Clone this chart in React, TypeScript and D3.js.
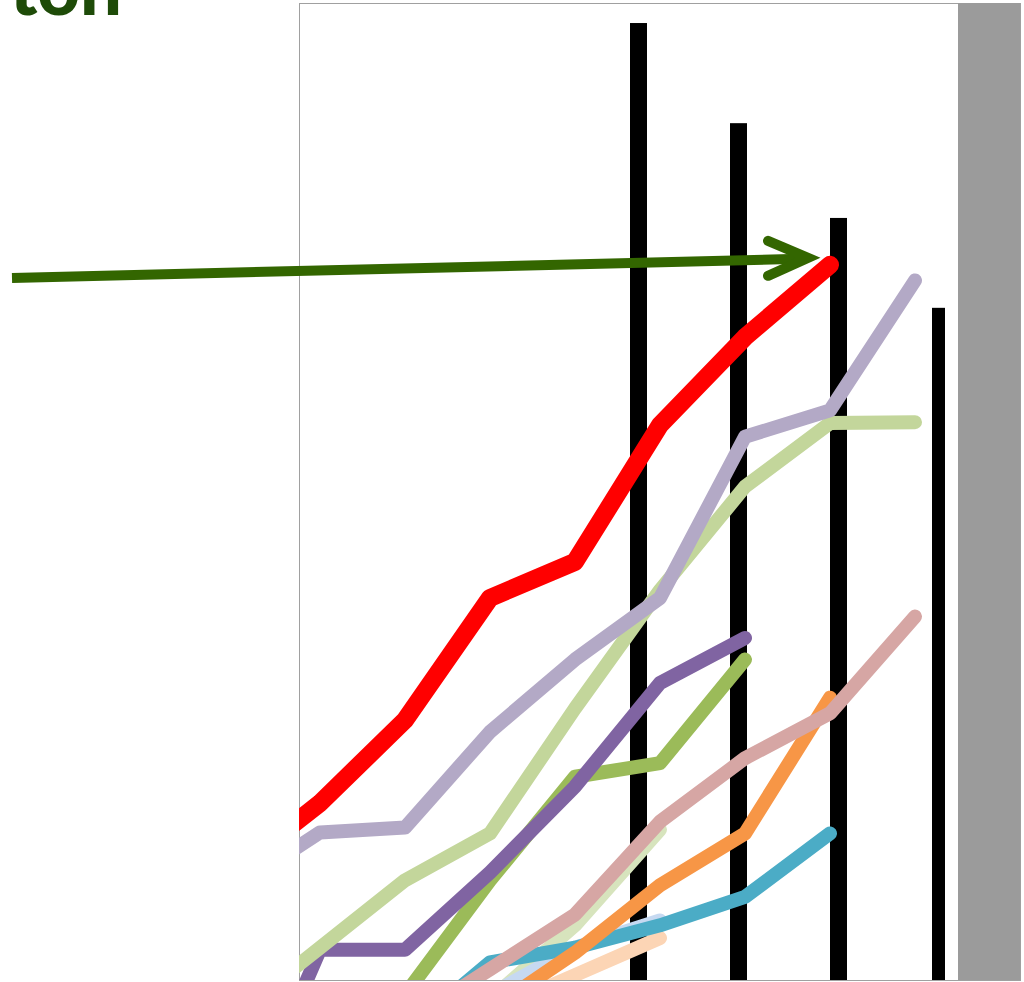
import React from "react";
import * as d3 from "d3";

// Period categories shared by every line series
const PERIODS = ["p0", "p1", "p2", "p3", "p4", "p5", "p6", "p7", "p8"];

// Line series values (null = no data for that period)
const RED = [11.3, 18.1, 26.6, 39.1, 42.8, 56.8, 65.8, 73.2, null];
const LAVENDER = [9.4, 15.1, 15.6, 25.4, 32.8, 39.1, 55.6, 58.3, 71.6];
const LIGHT_GREEN = [-3.6, 3.3, 10.2, 15.0, 27.8, 39.9, 50.5, 57.0, 57.1];
const PURPLE = [-17, 3.1, 3.1, 11.0, 19.8, 30.4, 35.0, null, null];
const OLIVE = [null, null, -1.5, 10.2, 20.8, 22.2, 32.8, null, null];
const TEAL = [null, null, -5.5, 1.8, 3.3, 5.6, 8.5, 15.0, null];
const PINK = [null, null, -4.5, 1.1, 6.7, 16.2, 22.7, 27.3, 37.2];
const ORANGE = [null, null, null, -3.1, 2.8, 9.7, 15.0, 28.9, null];
const PEACH = [null, null, null, -3.3, 0.5, 4.3, null, null, null];
const LIGHT_BLUE = [null, null, null, -1.5, 3.3, 6.1, null, null, null];
const PALE_GREEN = [null, null, null, -2.0, 5.6, 15.4, null, null, null];

// Bar series
const BAR_CATS = ["b1", "b2", "b3", "b4"];
const BAR_VALUES = [97.95, 87.7, 78.0, 68.8];

const TITLE = "ton";

// Drawing order: first is at the bottom
const SERIES: { values: (number | null)[]; color: string; width: number }[] = [
  { values: PALE_GREEN, color: "#d7e4bd", width: 14 },
  { values: LIGHT_BLUE, color: "#c6d9f1", width: 14 },
  { values: PEACH, color: "#fcd5b5", width: 14 },
  { values: TEAL, color: "#4bacc6", width: 14 },
  { values: ORANGE, color: "#f79646", width: 14 },
  { values: PINK, color: "#d6a6a4", width: 14 },
  { values: OLIVE, color: "#9bbb59", width: 14 },
  { values: PURPLE, color: "#8064a2", width: 14 },
  { values: LIGHT_GREEN, color: "#c3d69b", width: 14 },
  { values: LAVENDER, color: "#b3a9c6", width: 14 },
  { values: RED, color: "#ff0000", width: 18 },
];

const W = 1024;
const H = 982;
const PLOT = { left: 299, top: 3, right: 1020, bottom: 980 };

export default function App() {
  const x = d3.scalePoint<string>().domain(PERIODS).range([235, 915]);
  const y = d3.scaleLinear().domain([0, 100]).range([PLOT.bottom, PLOT.top]);
  const xBar = d3.scalePoint<string>().domain(BAR_CATS).range([638.5, 938.5]);

  const line = d3
    .line<number | null>()
    .defined((d) => d != null)
    .x((_, i) => x(PERIODS[i]) as number)
    .y((d) => y(d as number));

  // Arrow points at the last red value
  const redLastIdx = RED.reduce((acc, v, i) => (v != null ? i : acc), 0);
  const tipX = (x(PERIODS[redLastIdx]) as number) - 22;
  const tipY = y(RED[redLastIdx] as number) - 7;

  return (
    <svg
      width={W}
      height={H}
      style={{ position: "absolute", left: 0, top: 0, background: "#fff" }}
    >
      <defs>
        <clipPath id="plotClip">
          <rect
            x={PLOT.left}
            y={PLOT.top}
            width={PLOT.right - PLOT.left}
            height={PLOT.bottom - PLOT.top}
          />
        </clipPath>
      </defs>

      <text
        x={122}
        y={15}
        textAnchor="end"
        fontFamily="Lato, 'Open Sans', sans-serif"
        fontWeight={900}
        fontSize={74}
        fill="#1e4b08"
      >
        {TITLE}
      </text>

      {/* plot frame */}
      <rect
        x={PLOT.left + 0.5}
        y={PLOT.top + 0.5}
        width={PLOT.right - PLOT.left}
        height={PLOT.bottom - PLOT.top}
        fill="none"
        stroke="#a0a0a0"
        strokeWidth={1}
      />

      {/* gray side band */}
      <rect
        x={958}
        y={PLOT.top}
        width={PLOT.right - 958}
        height={PLOT.bottom - PLOT.top}
        fill="#9b9b9b"
      />

      <g clipPath="url(#plotClip)">
        {BAR_VALUES.map((v, i) => {
          const w = i === BAR_VALUES.length - 1 ? 13 : 17;
          const cx = xBar(BAR_CATS[i]) as number;
          return (
            <rect
              key={i}
              x={cx - w / 2}
              y={y(v)}
              width={w}
              height={y(0) - y(v)}
              fill="#000"
            />
          );
        })}

        {SERIES.map((s, i) => (
          <path
            key={i}
            d={line(s.values) || ""}
            fill="none"
            stroke={s.color}
            strokeWidth={s.width}
            strokeLinecap="round"
            strokeLinejoin="round"
          />
        ))}
      </g>

      {/* annotation arrow */}
      <g stroke="#336600" fill="none">
        <line x1={12} y1={278} x2={tipX - 8} y2={tipY + 1} strokeWidth={10} />
        <polyline
          points={`${tipX - 40},${tipY - 17} ${tipX},${tipY} ${tipX - 40},${tipY + 18}`}
          strokeWidth={10}
          strokeLinecap="round"
          strokeLinejoin="miter"
        />
      </g>
    </svg>
  );
}
